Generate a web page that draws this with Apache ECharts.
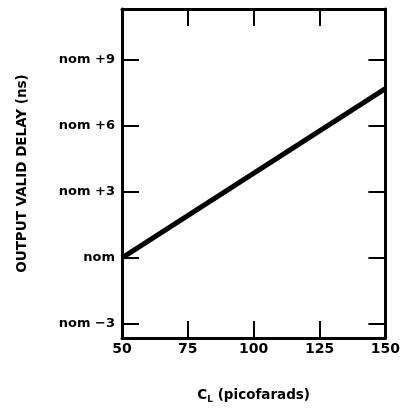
<!DOCTYPE html>
<html><head><meta charset="utf-8">
<script src="https://cdn.jsdelivr.net/npm/echarts@6/dist/echarts.min.js"></script>
<style>html,body{margin:0;padding:0;background:#fff}#c{width:403px;height:409px}</style>
</head><body><div id="c"></div>
<script>
var xTicks = [50, 75, 100, 125, 150];
var yTickValues = [-3, 0, 3, 6, 9];
var yTickLabels = ['nom −3', 'nom', 'nom +3', 'nom +6', 'nom +9'];
var capacitance = [50, 150];
var delay = [0, 7.7];

var FONT = 'DejaVu Sans';
var chart = echarts.init(document.getElementById('c'), null, {renderer: 'canvas'});
var lineData = capacitance.map(function (c, i) { return [c, delay[i]]; });
var tickStyle = {show: true, inside: true, length: 17, lineStyle: {color: '#000', width: 2}};
var axisLine = {show: true, onZero: false, lineStyle: {color: '#000', width: 3}};
chart.setOption({
  animation: false,
  grid: {left: 122, right: 16, top: 9, bottom: 71},
  xAxis: [{
    type: 'value', min: 50, max: 150, interval: 25, position: 'bottom',
    axisLine: axisLine, axisTick: tickStyle, splitLine: {show: false},
    axisLabel: {color: '#000', fontFamily: FONT, fontWeight: 'bold', fontSize: 14, margin: 4,
      customValues: xTicks},
    name: 'C{s|L} (picofarads)', nameLocation: 'middle', nameGap: 49,
    nameTextStyle: {color: '#000', fontFamily: FONT, fontWeight: 'bold', fontSize: 13.5,
      rich: {s: {fontFamily: FONT, fontWeight: 'bold', fontSize: 9, verticalAlign: 'bottom', padding: [8, 0, 0, 0]}}}
  }, {
    type: 'value', min: 50, max: 150, interval: 25, position: 'top',
    axisLine: axisLine, axisTick: tickStyle, splitLine: {show: false},
    axisLabel: {show: false}
  }],
  yAxis: [{
    type: 'value', min: -3.64, max: 11.32, position: 'left',
    axisLine: axisLine, splitLine: {show: false},
    axisTick: Object.assign({customValues: yTickValues}, tickStyle),
    axisLabel: {color: '#000', fontFamily: FONT, fontWeight: 'bold', fontSize: 13, margin: 7,
      customValues: yTickValues,
      formatter: function (v) { var i = yTickValues.indexOf(Math.round(v)); return i >= 0 ? yTickLabels[i] : ''; }},
    name: 'OUTPUT VALID DELAY (ns)', nameLocation: 'middle', nameRotate: 90, nameGap: 93,
    nameTextStyle: {color: '#000', fontFamily: FONT, fontWeight: 'bold', fontSize: 13.5}
  }, {
    type: 'value', min: -3.64, max: 11.32, position: 'right',
    axisLine: axisLine, splitLine: {show: false},
    axisTick: Object.assign({customValues: yTickValues}, tickStyle),
    axisLabel: {show: false}
  }],
  series: [{
    type: 'line', xAxisIndex: 0, yAxisIndex: 0, data: lineData,
    symbol: 'none', lineStyle: {color: '#000', width: 5}, clip: true
  }]
});
</script></body></html>
